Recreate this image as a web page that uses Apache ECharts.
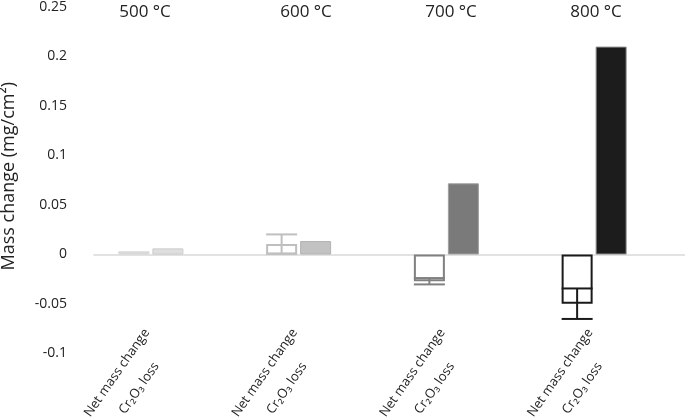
<!DOCTYPE html>
<html>
<head>
<meta charset="utf-8">
<script src="https://cdn.jsdelivr.net/npm/echarts@6/dist/echarts.min.js"></script>
<style>
  html, body { margin: 0; padding: 0; background: #fff; }
  #chart { width: 685px; height: 420px; }
</style>
</head>
<body>
<div id="chart"></div>
<script>
// data
const temperatures = ['500 °C', '600 °C', '700 °C', '800 °C'];
const barLabels = ['Net mass change', 'Cr₂O₃ loss'];
const netMassChange = [0.0018, 0.0105, -0.027, -0.0497];
const netMassError = [0.0005, 0.0098, 0.0032, 0.0154];
const cr2o3Loss = [0.0062, 0.0136, 0.0719, 0.21];
const yMin = -0.1, yMax = 0.25, yStep = 0.05;

// styles
const netColors = ['#d9d9d9', '#bfbfbf', '#808080', '#1a1a1a'];
const crColors = ['#dedede', '#c2c2c2', '#7a7a7a', '#1c1c1c'];
const crBorders = ['#cccccc', '#b3b3b3', '#a0a0a0', '#8c8c8c'];
const titleX = [145, 306, 451, 596];
const BAR_W = 31, BAR_GAP = 3;
const font = '"Open Sans", sans-serif';
const ink = '#222';

const chart = echarts.init(document.getElementById('chart'));

const barGap = (BAR_GAP / BAR_W * 100) + '%';

chart.setOption({
  animation: false,
  grid: { left: 94, right: 0, top: 7, bottom: 66.5, containLabel: false, outerBoundsMode: 'none' },
  xAxis: {
    type: 'category',
    data: temperatures,
    axisLine: { onZero: true, lineStyle: { color: '#d9d9d9', width: 1.5 } },
    axisTick: { show: false },
    axisLabel: { show: false }
  },
  yAxis: {
    type: 'value',
    min: yMin,
    max: yMax,
    interval: yStep,
    name: 'Mass change (mg/cm²)',
    nameLocation: 'middle',
    nameGap: 76,
    nameTextStyle: { fontSize: 18, fontFamily: font, color: ink, padding: [0, 0, 0, 8] },
    axisLine: { show: false },
    axisTick: { show: false },
    splitLine: { show: false },
    axisLabel: {
      margin: 27,
      fontSize: 14,
      fontFamily: font,
      color: ink,
      formatter: v => String(+v.toFixed(2))
    }
  },
  series: [
    {
      name: barLabels[0],
      type: 'bar',
      barWidth: BAR_W,
      barGap: barGap,
      data: netMassChange.map((v, i) => ({
        value: v,
        itemStyle: { color: '#fff', borderColor: netColors[i], borderWidth: 2 }
      }))
    },
    {
      name: barLabels[1],
      type: 'bar',
      barWidth: BAR_W,
      barGap: barGap,
      data: cr2o3Loss.map((v, i) => ({
        value: v,
        itemStyle: { color: crColors[i], borderColor: crBorders[i], borderWidth: 1 }
      }))
    },
    {
      // empty third slot, as in the original clustered layout
      name: '',
      type: 'bar',
      barWidth: BAR_W,
      barGap: barGap,
      data: []
    },
    {
      type: 'custom',
      encode: { x: 0, y: [1] },
      z: 10,
      data: netMassChange.map((v, i) => [i, v, netMassError[i]]),
      renderItem: (params, api) => {
        const i = api.value(0);
        const lo = api.coord([i, api.value(1) - api.value(2)]);
        const hi = api.coord([i, api.value(1) + api.value(2)]);
        const x = lo[0] - (BAR_W + BAR_GAP);
        const h = BAR_W / 2;
        const style = { stroke: netColors[i], lineWidth: 2 };
        return {
          type: 'group',
          children: [
            { type: 'line', shape: { x1: x, y1: lo[1], x2: x, y2: hi[1] }, style },
            { type: 'line', shape: { x1: x - h, y1: lo[1], x2: x + h, y2: lo[1] }, style },
            { type: 'line', shape: { x1: x - h, y1: hi[1], x2: x + h, y2: hi[1] }, style }
          ]
        };
      }
    }
  ]
});

// temperature headings and rotated bar captions, placed from the axis scales
const zeroY = chart.convertToPixel({ yAxisIndex: 0 }, 0);
const headings = temperatures.map((t, i) => ({
  type: 'text',
  x: titleX[i],
  y: 12,
  style: {
    text: t, align: 'center', verticalAlign: 'middle',
    fontSize: 17, fontFamily: font, fill: ink
  }
}));
const captions = temperatures.map((t, i) => ({
  type: 'text',
  x: chart.convertToPixel({ xAxisIndex: 0 }, i) - 10,
  y: zeroY + 83.5,
  rotation: 55 * Math.PI / 180,
  style: {
    text: '{a|' + barLabels[0] + '}\n{a|' + barLabels[1] + '}',
    align: 'right', verticalAlign: 'middle',
    rich: { a: { align: 'center', fontSize: 13, lineHeight: 27, fontFamily: font, fill: ink, color: ink } }
  }
}));
chart.setOption({ graphic: headings.concat(captions) });
</script>
</body>
</html>
